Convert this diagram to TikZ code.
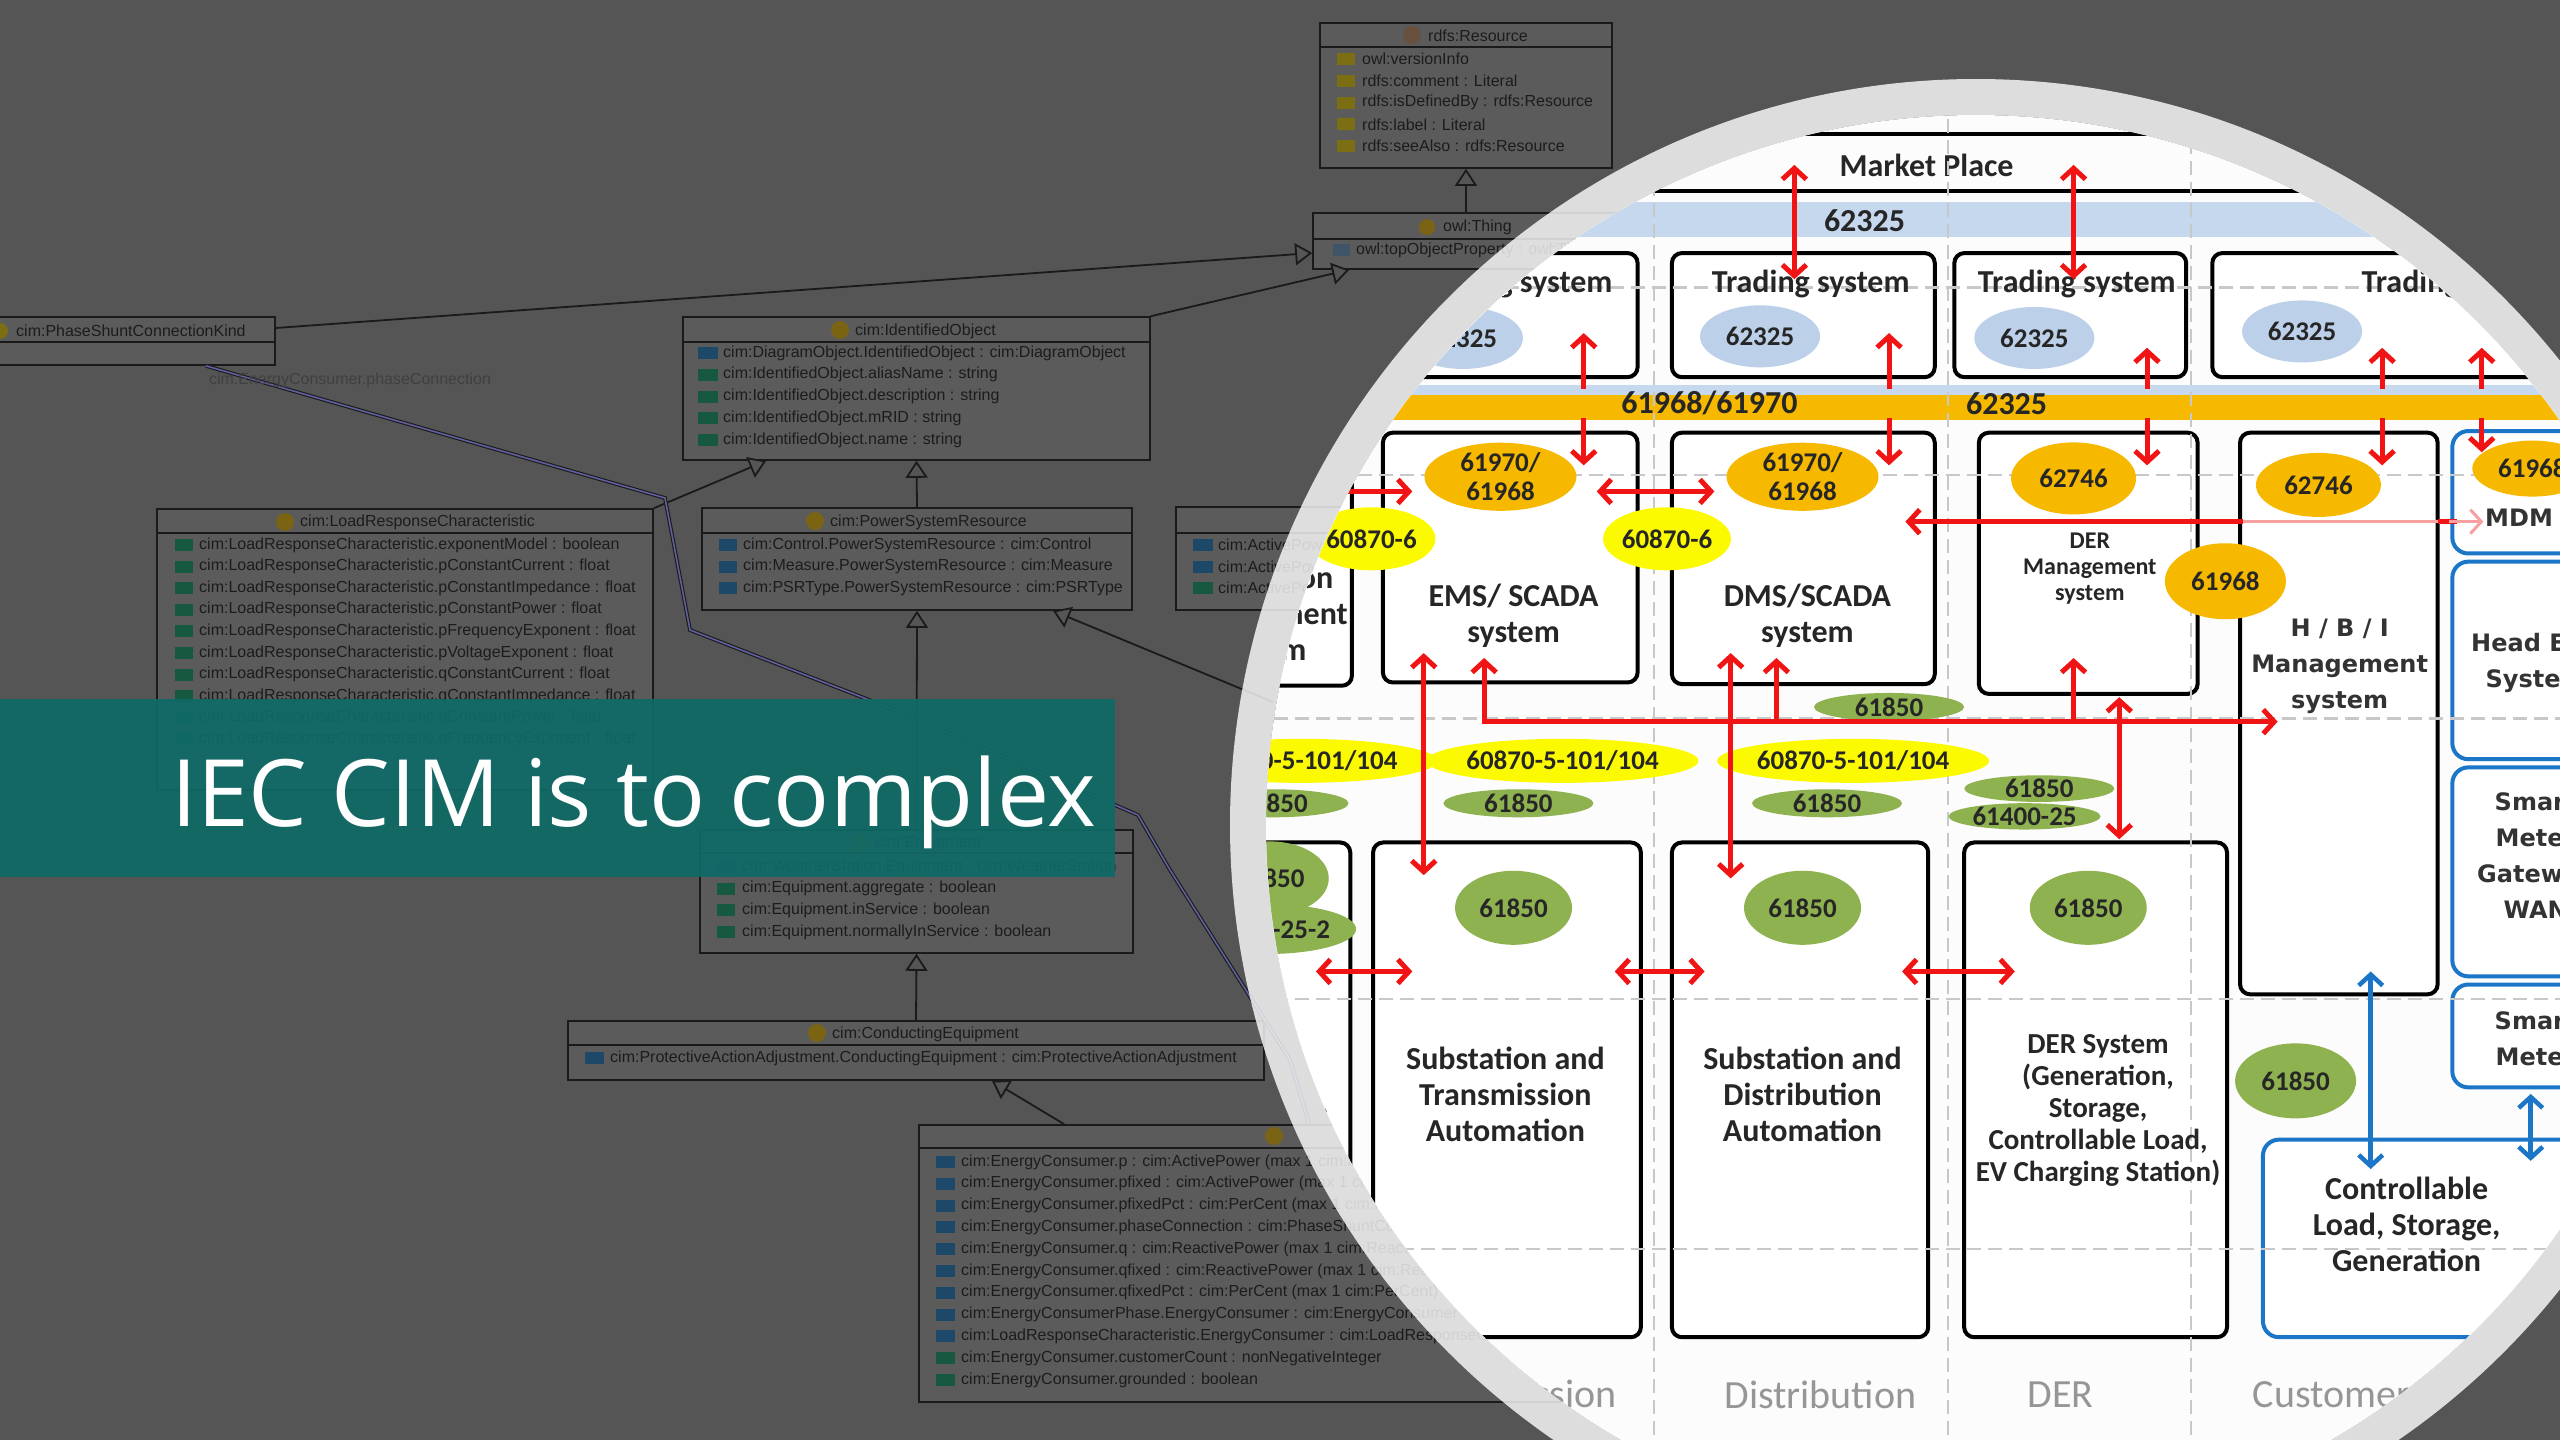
\documentclass[tikz,border=0pt]{standalone}
\usepackage{fontspec}
\usetikzlibrary{arrows.meta,positioning,shapes.geometric,fit}
\newfontfamily\umlfont{Liberation Sans}
\newfontfamily\titlefont{Open Sans}
\newfontfamily\calfont{Carlito}
\newfontfamily\dvfont{DejaVu Sans}

\definecolor{bggray}{RGB}{85,85,85}
\definecolor{umlfill}{RGB}{91,91,91}
\definecolor{umlline}{RGB}{26,26,26}
\definecolor{umltext}{RGB}{28,28,28}
\definecolor{assoctext}{RGB}{64,64,64}
\definecolor{iconyel}{RGB}{124,110,18}
\definecolor{iconhead}{RGB}{122,100,20}
\definecolor{iconbrown}{RGB}{104,80,62}
\definecolor{iconblue}{RGB}{30,72,104}
\definecolor{icongreen}{RGB}{22,88,64}
\definecolor{iconslate}{RGB}{64,84,104}
\definecolor{bannerteal}{RGB}{15,106,102}
\definecolor{innerbg}{RGB}{252,252,252}
\definecolor{bandblue}{RGB}{198,216,238}
\definecolor{ellblue}{RGB}{189,208,233}
\definecolor{gold}{RGB}{247,184,0}
\definecolor{brightyel}{RGB}{252,250,0}
\definecolor{leafgreen}{RGB}{143,178,80}
\definecolor{diagred}{RGB}{240,20,20}
\definecolor{diagpink}{RGB}{246,160,160}
\definecolor{diagblue}{RGB}{28,118,200}
\definecolor{griddash}{RGB}{200,200,200}
\definecolor{colgray}{RGB}{150,150,150}

\tikzset{
  umlbox/.style={draw=umlline, fill=umlfill, line width=1.6pt, inner sep=0pt},
  umlrow/.style={anchor=west, inner sep=0pt, text=umltext, font=\umlfont\fontsize{16}{19}\selectfont},
  generalize/.style={draw=umlline, line width=1.8pt, -{Triangle[length=17pt, width=22pt, fill=bggray]}},
  assoc/.style={draw=umlline, line width=1.1pt, double=gray!75!blue, double distance=1.6pt},
  blkbox/.style={draw=black, line width=4pt, rounded corners=10pt, fill=white, inner sep=0pt},
  bluebox/.style={draw=diagblue, line width=4pt, rounded corners=16pt, fill=white, inner sep=0pt},
  bandfill/.style={draw=none, inner sep=0pt},
  gridline/.style={draw=griddash, line width=2.5pt, dash pattern=on 14pt off 7pt},
  boxtxt/.style={font=\calfont\bfseries\fontsize{32}{36}\selectfont, align=center, inner sep=0pt, text=black!85},
  smalltxt/.style={font=\calfont\bfseries\fontsize{24}{26}\selectfont, align=center, inner sep=0pt, text=black!85},
  dvtxt/.style={font=\dvfont\bfseries\fontsize{24}{36}\selectfont, align=center, inner sep=0pt, text=black!80},
  coltxt/.style={font=\calfont\fontsize{40}{44}\selectfont, inner sep=0pt, text=colgray},
  ellnum/.style={ellipse, inner sep=0pt, font=\calfont\bfseries\fontsize{27}{29}\selectfont, align=center, text=black!85},
  goldell/.style={ellnum, fill=gold},
  yelell/.style={ellnum, fill=brightyel},
  greenell/.style={ellnum, fill=leafgreen},
  blueell/.style={ellnum, fill=ellblue},
  redarr/.style={draw=diagred, line width=5pt, >={Straight Barb[length=11pt,width=24pt]}},
  pinkarr/.style={draw=diagpink, line width=3pt, >={Straight Barb[length=11pt,width=24pt]}},
  bluearr/.style={draw=diagblue, line width=4.5pt, >={Straight Barb[length=11pt,width=24pt]}}
}

\begin{document}
\begin{tikzpicture}[x=1pt,y=-1pt]
\useasboundingbox (0,0) rectangle (2560,1440);
\fill[bggray] (0,0) rectangle (2560,1440);

% ontology classes behind the lens
\node[umlbox, fit={(1320,23) (1612,168)}] (res) {};
\draw[umlline, line width=1.6pt] (1320,47) -- (1612,47);
\fill[iconbrown] (1412,35) circle (9);
\node[umlrow] (reshead) at (1428,36) {rdfs:Resource};
\foreach \rowtext [count=\k from 0] in {{owl:versionInfo}, {rdfs:comment : Literal}, {rdfs:isDefinedBy : rdfs:Resource}, {rdfs:label : Literal}, {rdfs:seeAlso : rdfs:Resource}} {
  \fill[iconyel] (1337,{53+21.8*\k}) rectangle (1355,{65+21.8*\k});
  \node[umlrow] (res\k) at (1362,{59+21.8*\k}) {\rowtext};
}

\node[umlbox, fit={(1313,213) (1620,269)}] (thing) {};
\draw[umlline, line width=1.6pt] (1313,239) -- (1620,239);
\fill[iconhead] (1427,227) circle (8);
\node[umlrow] (thinghead) at (1443,227) {owl:Thing};
\fill[iconslate] (1333,244) rectangle (1350,256);
\node[umlrow] (thing0) at (1356,250) {owl:topObjectProperty : owl:Thing};

\node[umlbox, fit={(-5,317) (275,365)}] (shunt) {};
\draw[umlline, line width=1.6pt] (-5,342) -- (275,342);
\fill[iconyel] (0,331) circle (8);
\node[umlrow] (shunthead) at (16,331) {cim:PhaseShuntConnectionKind};

\node[umlbox, fit={(683,317) (1150,460)}] (ident) {};
\draw[umlline, line width=1.6pt] (683,342) -- (1150,342);
\fill[iconhead] (840,330) circle (9);
\node[umlrow] (identhead) at (855,331) {cim:IdentifiedObject};
\foreach \ic/\rowtext [count=\k from 0] in {iconblue/{cim:DiagramObject.IdentifiedObject : cim:DiagramObject}, icongreen/{cim:IdentifiedObject.aliasName : string}, icongreen/{cim:IdentifiedObject.description : string}, icongreen/{cim:IdentifiedObject.mRID : string}, icongreen/{cim:IdentifiedObject.name : string}} {
  \fill[\ic] (698,{347+21.8*\k}) rectangle (718,{359+21.8*\k});
  \node[umlrow] (ident\k) at (723,{353+21.8*\k}) {\rowtext};
}

\node[umlbox, fit={(157,509) (653,790)}] (lrc) {};
\draw[umlline, line width=1.6pt] (157,533) -- (653,533);
\fill[iconhead] (285,522) circle (9);
\node[umlrow] (lrchead) at (300,522) {cim:LoadResponseCharacteristic};
\foreach \rowtext [count=\k from 0] in {{exponentModel : boolean}, {pConstantCurrent : float}, {pConstantImpedance : float}, {pConstantPower : float}, {pFrequencyExponent : float}, {pVoltageExponent : float}, {qConstantCurrent : float}, {qConstantImpedance : float}, {qConstantPower : float}, {qFrequencyExponent : float}} {
  \fill[icongreen] (175,{539+21.6*\k}) rectangle (193,{551+21.6*\k});
  \node[umlrow] (lrc\k) at (199,{545+21.6*\k}) {cim:LoadResponseCharacteristic.\rowtext};
}

\node[umlbox, fit={(702,508) (1132,610)}] (psr) {};
\draw[umlline, line width=1.6pt] (702,533) -- (1132,533);
\fill[iconhead] (815,521) circle (9);
\node[umlrow] (psrhead) at (830,522) {cim:PowerSystemResource};
\foreach \rowtext [count=\k from 0] in {{cim:Control.PowerSystemResource : cim:Control}, {cim:Measure.PowerSystemResource : cim:Measure}, {cim:PSRType.PowerSystemResource : cim:PSRType}} {
  \fill[iconblue] (719,{539+21.6*\k}) rectangle (737,{551+21.6*\k});
  \node[umlrow] (psr\k) at (743,{545+21.6*\k}) {\rowtext};
}

\node[umlbox, fit={(1176,507) (1500,610)}] (limit) {};
\draw[umlline, line width=1.6pt] (1176,533) -- (1500,533);
\foreach \ic [count=\k from 0] in {iconblue, iconblue, icongreen} {
  \fill[\ic] (1193,{539+21.6*\k}) rectangle (1213,{551+21.6*\k});
  \node[umlrow] (limit\k) at (1218,{545+21.6*\k}) {cim:ActivePower};
}

\node[umlbox, fit={(700,830) (1133,953)}] (equip) {};
\draw[umlline, line width=1.6pt] (700,853) -- (1133,853);
\fill[iconhead] (860,843) circle (9);
\node[umlrow] (equiphead) at (875,843) {cim:Equipment};
\foreach \ic/\rowtext [count=\k from 0] in {iconblue/{cim:WeatherStation.Equipment : cim:WeatherStation}, icongreen/{cim:Equipment.aggregate : boolean}, icongreen/{cim:Equipment.inService : boolean}, icongreen/{cim:Equipment.normallyInService : boolean}} {
  \fill[\ic] (717,{861+21.7*\k}) rectangle (735,{873+21.7*\k});
  \node[umlrow] (equip\k) at (742,{867+21.7*\k}) {\rowtext};
}

\node[umlbox, fit={(568,1021) (1264,1080)}] (cond) {};
\draw[umlline, line width=1.6pt] (568,1045) -- (1264,1045);
\fill[iconhead] (817,1033) circle (9);
\node[umlrow] (condhead) at (832,1034) {cim:ConductingEquipment};
\fill[iconblue] (585,1052) rectangle (604,1064);
\node[umlrow] (cond0) at (610,1058) {cim:ProtectiveActionAdjustment.ConductingEquipment : cim:ProtectiveActionAdjustment};

\node[umlbox, fit={(919,1125) (1600,1402)}] (ec) {};
\draw[umlline, line width=1.6pt] (919,1148) -- (1600,1148);
\fill[iconhead] (1274,1136) circle (9);
\foreach \ic/\rowtext [count=\k from 0] in {
  iconblue/{cim:EnergyConsumer.p : cim:ActivePower (max 1 cim:ActivePower)},
  iconblue/{cim:EnergyConsumer.pfixed : cim:ActivePower (max 1 cim:ActivePower)},
  iconblue/{cim:EnergyConsumer.pfixedPct : cim:PerCent (max 1 cim:PerCent)},
  iconblue/{cim:EnergyConsumer.phaseConnection : cim:PhaseShuntConnectionKind},
  iconblue/{cim:EnergyConsumer.q : cim:ReactivePower (max 1 cim:ReactivePower)},
  iconblue/{cim:EnergyConsumer.qfixed : cim:ReactivePower (max 1 cim:ReactivePower)},
  iconblue/{cim:EnergyConsumer.qfixedPct : cim:PerCent (max 1 cim:PerCent)},
  iconblue/{cim:EnergyConsumerPhase.EnergyConsumer : cim:EnergyConsumer},
  iconblue/{cim:LoadResponseCharacteristic.EnergyConsumer : cim:LoadResponseCharacteristic},
  icongreen/{cim:EnergyConsumer.customerCount : nonNegativeInteger},
  icongreen/{cim:EnergyConsumer.grounded : boolean}} {
  \fill[\ic] (936,{1156+21.8*\k}) rectangle (955,{1168+21.8*\k});
  \node[umlrow] (ec\k) at (961,{1162+21.8*\k}) {\rowtext};
}

\coordinate (offlens) at (1273,702);
\draw[generalize] (res.south |- thing.north) -- (res.south);
\draw[generalize] ([yshift=13pt]shunt.east) -- ([yshift=-12pt]thing.west);
\draw[generalize] (ident.north east) -- ([xshift=37pt]thing.south west);
\draw[generalize] (lrc.north east) -- ([xshift=84pt]ident.south west);
\draw[generalize] (psr.north) -- (ident.south);
\draw[generalize] (equip.north) -- (psr.south);
\draw[generalize] (cond.north) -- (equip.south);
\draw[generalize] ([xshift=146pt]ec.north west) -- ([xshift=76pt]cond.south);
\draw[generalize] (offlens) -- ([xshift=136pt]psr.south);
\draw[assoc] ([xshift=-70pt]shunt.south east) -- (665,498) -- (690,630) -- (900,712)
  -- (1138,815) -- (1170,870) -- (1290,1060) -- ([xshift=391pt]ec.north west);
\node[umlrow, anchor=center, text=assoctext] (assoclbl) at (350,380) {cim:EnergyConsumer.phaseConnection};

% banner
\node[fill=bannerteal, fill opacity=0.93, inner sep=0pt, fit={(0,699) (1115,877)}] (banner) {};
\node[anchor=base west, inner sep=0pt, text=white, font=\titlefont\fontsize{93}{108}\selectfont] (title) at (171,826) {IEC CIM is to complex};

% lens
\coordinate (lens) at (1976,825);
\fill[innerbg] (lens) circle (710);
\begin{scope}[x=1.6327pt, y=-1.6327pt]
\clip (1210.3,505.3) circle (434.9);

\node[draw=black, line width=4.5pt, inner sep=0pt, fit={(690,82) (1720,117)}] (market) {};
\node[boxtxt] (markettxt) at (1180,101) {Market Place};
\node[bandfill, fill=bandblue, fit={(690,124) (1720,145)}] (bandtop) {};
\node[boxtxt] (bandtoptxt) at (1142,135) {62325};
\node[bandfill, fill=bandblue, fit={(690,236) (1720,242)}] (bandlow) {};
\node[bandfill, fill=gold, fit={(690,242) (1720,257)}] (bandgold) {};
\node[boxtxt] (bandgoldtxt1) at (1047,247) {61968/61970};
\node[boxtxt] (bandgoldtxt2) at (1229,247) {62325};

\node[blkbox, fit={(790,155) (1003,231)}] (trade1) {};
\node[blkbox, fit={(1024,155) (1185,231)}] (trade2) {};
\node[blkbox, fit={(1197,155) (1339,231)}] (trade3) {};
\node[blkbox, fit={(1355,155) (1720,231)}] (trade4) {};

\node[blkbox, fit={(690,265) (828,420)}] (gen2) {};
\node[blkbox, fit={(847,265) (1003,418)}] (ems) {};
\node[blkbox, fit={(1024,265) (1185,419)}] (dms) {};
\node[blkbox, fit={(1212,265) (1346,425)}] (derm) {};
\node[blkbox, fit={(1372,265) (1493,609)}] (hbi) {};
\node[bluebox, fit={(1502,264) (1720,339)}] (mdm) {};
\node[bluebox, fit={(1502,344) (1720,465)}] (headend) {};
\node[bluebox, fit={(1502,470) (1720,598)}] (smgw) {};
\node[bluebox, fit={(1502,603) (1720,666)}] (smeter) {};
\node[bluebox, fit={(1386,698) (1720,819)}] (ctrl) {};

\node[blkbox, fit={(690,516) (827,830)}] (gen3) {};
\node[blkbox, fit={(841,516) (1005,819)}] (sta) {};
\node[blkbox, fit={(1024,516) (1181,819)}] (sda) {};
\node[blkbox, fit={(1203,516) (1364,819)}] (ders) {};

\foreach \gx in {1013,1193,1342} \draw[gridline] (\gx,60) -- (\gx,900);
\foreach \gy in {176,291,440,612,765} \draw[gridline] (690,\gy) -- (1720,\gy);

\node[boxtxt] (trade1txt) at (927,174) {Trading system};
\node[boxtxt] (trade2txt) at (1109,174) {Trading system};
\node[boxtxt] (trade3txt) at (1272,174) {Trading system};
\node[boxtxt] (trade4txt) at (1507,174) {Trading system};
\node[blueell, minimum width=120pt, minimum height=62pt] (trade1ell) at (896,207) {62325};
\node[blueell, minimum width=120pt, minimum height=62pt] (trade2ell) at (1078,206) {62325};
\node[blueell, minimum width=120pt, minimum height=62pt] (trade3ell) at (1246,207) {62325};
\node[blueell, minimum width=120pt, minimum height=62pt] (trade4ell) at (1410,203) {62325};

\node[goldell, minimum width=152pt, minimum height=66pt] (emsell) at (919,292) {61970/\\61968};
\node[goldell, minimum width=152pt, minimum height=66pt] (dmsell) at (1104,292) {61970/\\61968};
\node[goldell, minimum width=125pt, minimum height=72pt] (dermell) at (1270,293) {62746};
\node[goldell, minimum width=125pt, minimum height=64pt] (hbiell) at (1420,297) {62746};
\node[goldell, minimum width=121pt, minimum height=76pt] (derhbiell) at (1363,356) {61968};
\node[goldell, minimum width=120pt, minimum height=56pt] (mdmell) at (1551,287) {61968};
\node[yelell, minimum width=112pt, minimum height=63pt] (genems) at (840,330) {60870-6};
\node[yelell, minimum width=113pt, minimum height=63pt] (emsdms) at (1021,330) {60870-6};

\node[greenell, minimum width=150pt, minimum height=28pt] (midgreen) at (1157,433) {61850};
\node[yelell, minimum width=234pt, minimum height=44pt] (iec104a) at (797,466) {60870-5-101/104};
\node[yelell, minimum width=234pt, minimum height=44pt] (iec104b) at (957,466) {60870-5-101/104};
\node[yelell, minimum width=234pt, minimum height=44pt] (iec104c) at (1135,466) {60870-5-101/104};
\node[greenell, minimum width=150pt, minimum height=28pt] (lowgreen1) at (780,492) {61850};
\node[greenell, minimum width=150pt, minimum height=28pt] (lowgreen2) at (930,492) {61850};
\node[greenell, minimum width=150pt, minimum height=28pt] (lowgreen3) at (1119,492) {61850};
\node[greenell, minimum width=150pt, minimum height=26pt] (dergreen1) at (1249,483) {61850};
\node[greenell, minimum width=152pt, minimum height=26pt] (dergreen2) at (1240,500) {61400-25};

\node[greenell, minimum width=117pt, minimum height=74pt] (gen3ell1) at (778,538) {61850};
\node[greenell, minimum width=160pt, minimum height=50pt] (gen3ell2) at (776,569) {61400-25-2};
\node[greenell, minimum width=117pt, minimum height=74pt] (staell) at (927,556) {61850};
\node[greenell, minimum width=117pt, minimum height=74pt] (sdaell) at (1104,556) {61850};
\node[greenell, minimum width=117pt, minimum height=74pt] (dersell) at (1279,556) {61850};
\node[greenell, minimum width=121pt, minimum height=75pt] (custell) at (1406,662) {61850};

\node[boxtxt] (gen2txt) at (771,377) {Generation\\Management\\System};
\node[boxtxt] (emstxt) at (927,377) {EMS/ SCADA\\system};
\node[boxtxt] (dmstxt) at (1107,377) {DMS/SCADA\\system};
\node[smalltxt] (dermtxt) at (1280,348) {DER\\Management\\system};
\node[dvtxt] (hbitxt) at (1433,408) {H / B / I\\Management\\system};
\node[dvtxt, anchor=west] (mdmtxt) at (1522,317) {MDM};
\node[dvtxt] (headtxt) at (1553,406) {Head End\\System};
\node[dvtxt] (smgwtxt) at (1553,524) {Smart\\Meter\\Gateway\\WAN};
\node[dvtxt] (smetertxt) at (1553,636) {Smart\\Meter};
\node[boxtxt] (gen3txt) at (768,681) {Generation};
\node[boxtxt] (statxt) at (922,670) {Substation and\\Transmission\\Automation};
\node[boxtxt] (sdatxt) at (1104,670) {Substation and\\Distribution\\Automation};
\node[boxtxt, font=\calfont\bfseries\fontsize{29}{32}\selectfont] (derstxt) at (1285,680) {DER System\\(Generation,\\Storage,\\Controllable Load,\\EV Charging Station)};
\node[boxtxt] (ctrltxt) at (1474,750) {Controllable\\Load, Storage,\\Generation};

\node[coltxt] (coltrans) at (926,854) {Transmission};
\node[coltxt] (coldist) at (1115,854) {Distribution};
\node[coltxt] (colder) at (1262,854) {DER};
\node[coltxt] (colcust) at (1428,854) {Customer};

% red links
\draw[redarr,<->] (1099,101) -- (1099,171);
\draw[redarr,<->] (1270,101) -- (1270,171);
\foreach \ax/\at in {970/204,1157/204,1315/213,1459/213,1520/213} \draw[redarr,->] (\ax,238) -- (\ax,\at);
\foreach \ax/\ab in {970/285,1157/285,1315/285,1459/285,1520/277} \draw[redarr,->] (\ax,256) -- (\ax,\ab);
\draw[redarr,<->] (790,301) -- (865,301);
\draw[redarr,<->] (978,301) -- (1050,301);
\draw[pinkarr] (1374,319.5) -- (1493,319.5);
\draw[redarr,->] (1374,319.5) -- (1167,319.5);
\draw[redarr] (1493,319.5) -- (1505,319.5);
\draw[pinkarr,->] (1500,319.5) -- (1521,319.5);
\draw[redarr,<->] (909,403) |- (1395,442);
\draw[redarr,->] (1088,442) -- (1088,403);
\draw[redarr,->] (1270,442) -- (1270,403);
\draw[redarr,<->] (872,400) -- (872,536);
\draw[redarr,<->] (1060,400) -- (1060,538);
\draw[redarr,<->] (1298,427) -- (1298,514);
\draw[redarr,<->] (806,595) -- (865,595);
\draw[redarr,<->] (989,595) -- (1044,595);
\draw[redarr,<->] (1165,595) -- (1234,595);
\draw[bluearr,<->] (1452,595) -- (1452,716);
\draw[bluearr,<->] (1550,670) -- (1550,711);
\end{scope}
\fill[white, opacity=0.8, even odd rule] (lens) circle (746) (lens) circle (710);
\end{tikzpicture}
\end{document}
